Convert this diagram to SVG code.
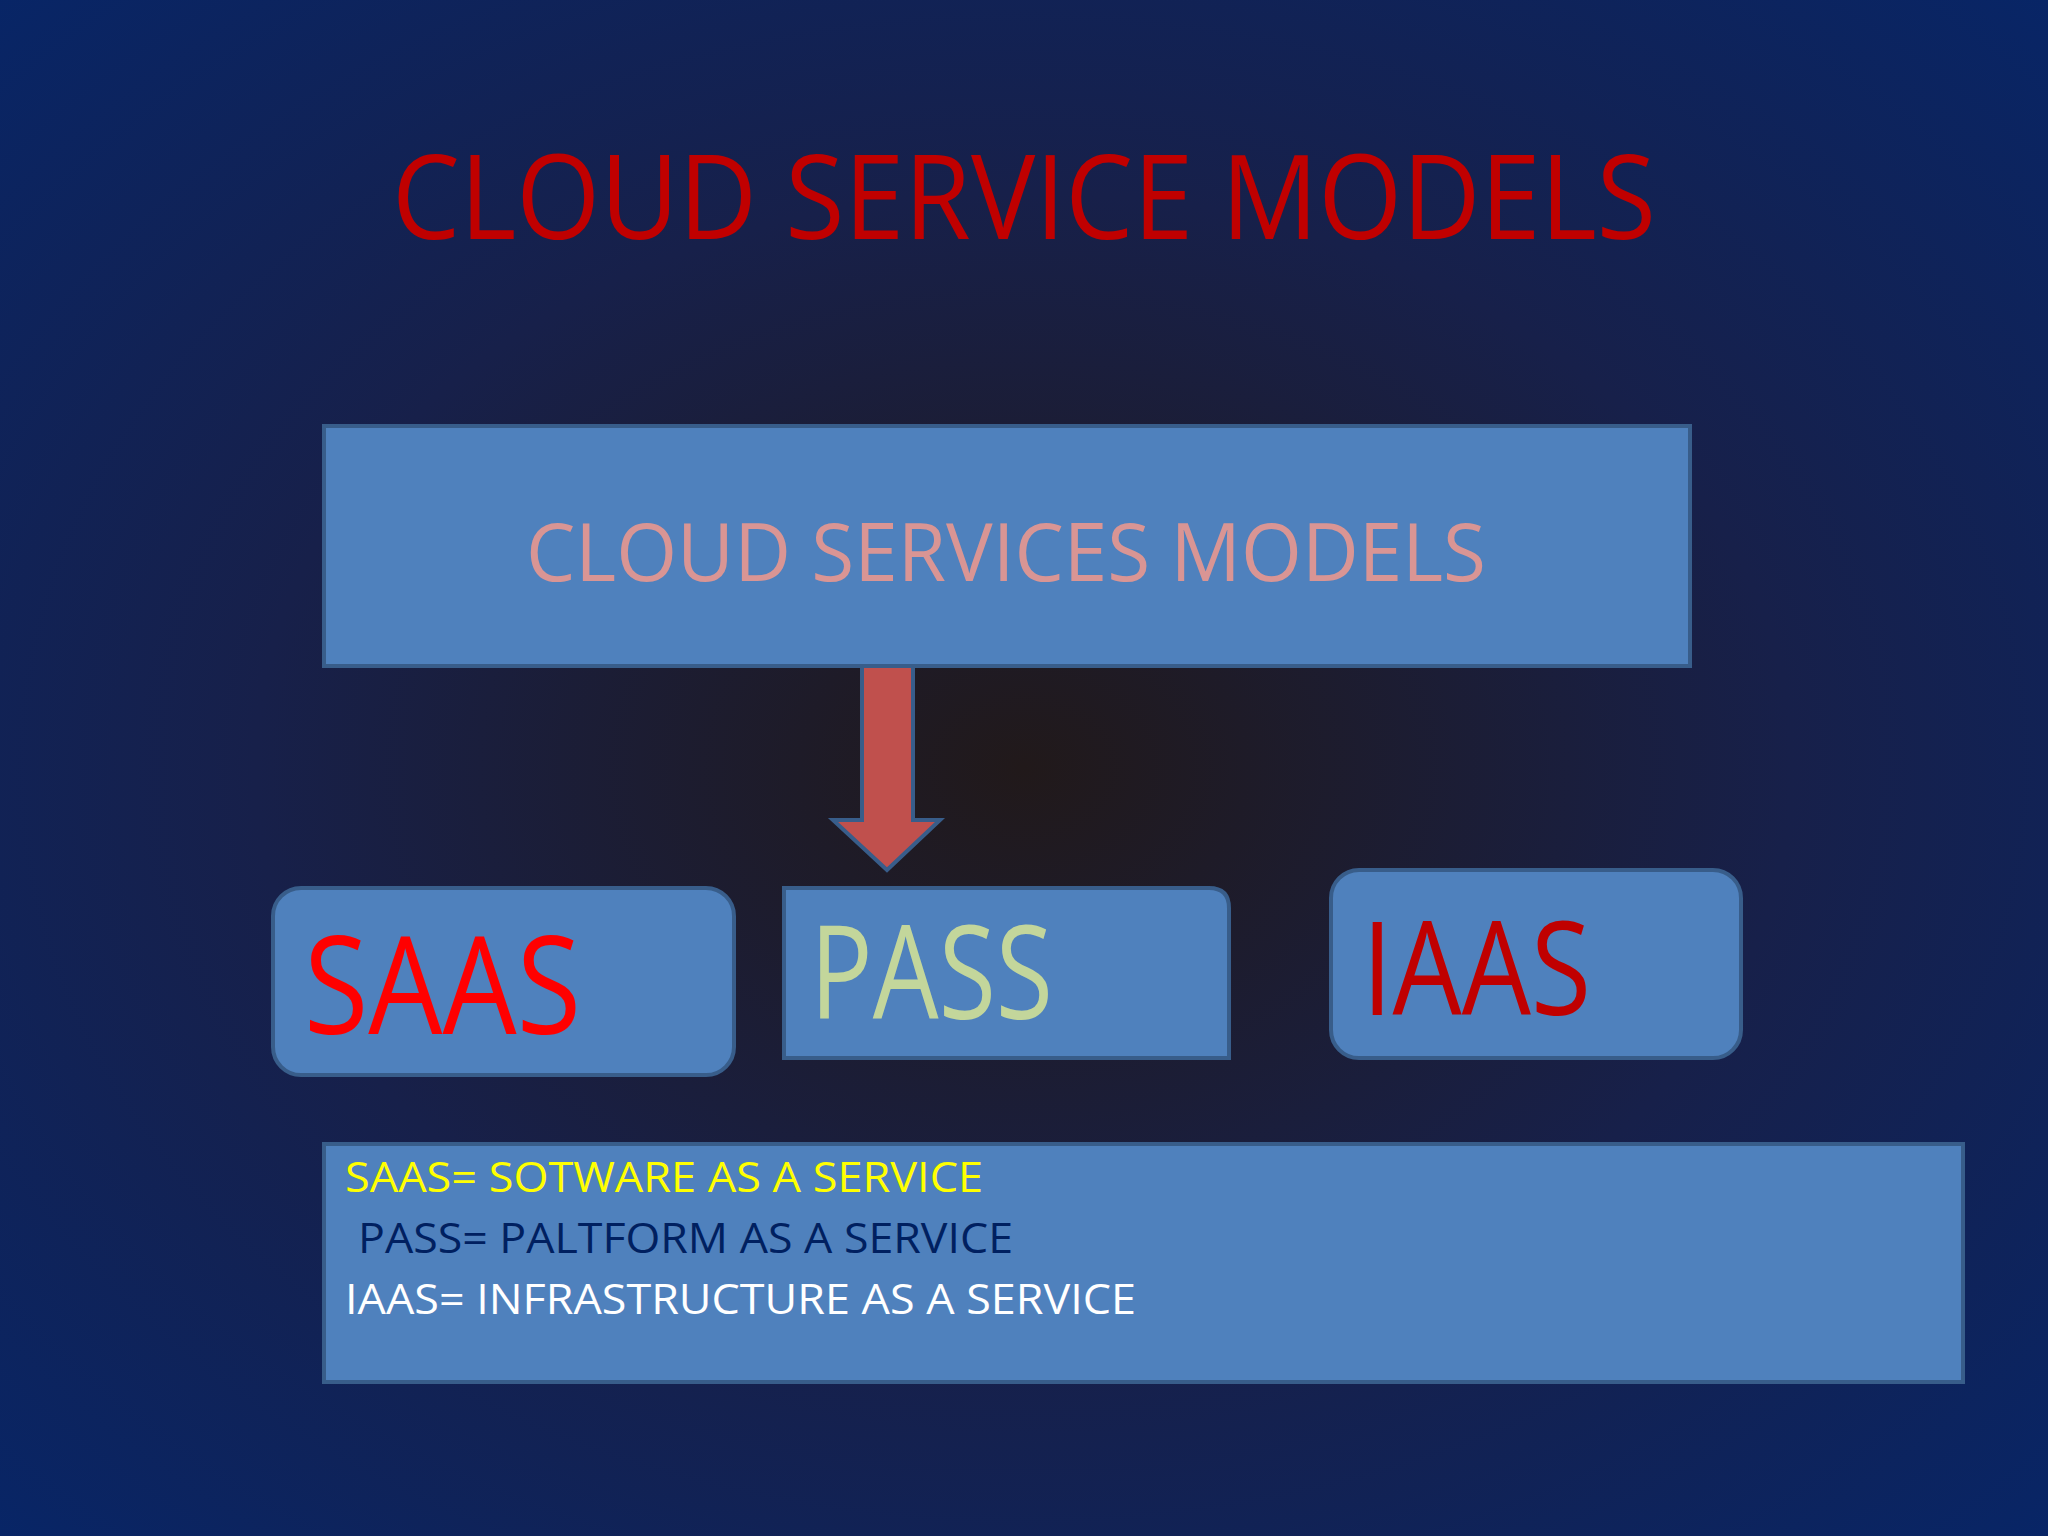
<svg xmlns="http://www.w3.org/2000/svg" width="2048" height="1536" viewBox="0 0 2048 1536">
<defs>
<radialGradient id="bg" cx="50%" cy="50%" r="75%">
<stop offset="0" stop-color="#21191a"/>
<stop offset="0.5" stop-color="#17204a"/>
<stop offset="1" stop-color="#06266a"/>
</radialGradient>
<style>
.box{fill:#4f81bd;stroke:#385d8a;stroke-width:4}
text{font-family:"Open Sans","Liberation Sans",sans-serif}
</style>
</defs>
<rect width="2048" height="1536" fill="url(#bg)"/>
<text x="392" y="239" font-size="118" fill="#c00000" textLength="1264" lengthAdjust="spacingAndGlyphs">CLOUD SERVICE MODELS</text>
<g id="top">
<rect class="box" x="324" y="426" width="1366" height="240"/>
<text x="526" y="581" font-size="80" fill="#d99594" textLength="960" lengthAdjust="spacingAndGlyphs">CLOUD SERVICES MODELS</text>
</g>
<g id="connectors">
<polygon points="862,666 913,666 913,820 940,820 887,870 833,820 862,820" fill="#c0504d" stroke="#385d8a" stroke-width="4"/>
</g>
<g id="saas">
<rect class="box" x="273" y="888" width="461" height="187" rx="28"/>
<text x="304" y="1034" font-size="136" fill="#ff0000" textLength="277" lengthAdjust="spacingAndGlyphs">SAAS</text>
</g>
<g id="pass">
<path class="box" d="M784,888 H1209 Q1229,888 1229,908 V1058 H784 Z"/>
<text x="810" y="1019" font-size="130" fill="#c3d69b" textLength="243" lengthAdjust="spacingAndGlyphs">PASS</text>
</g>
<g id="iaas">
<rect class="box" x="1331" y="870" width="410" height="188" rx="28"/>
<text x="1362" y="1015" font-size="130" fill="#c00000" textLength="229" lengthAdjust="spacingAndGlyphs">IAAS</text>
</g>
<g id="legend">
<rect class="box" x="324" y="1144" width="1639" height="238"/>
<text x="345" y="1192" font-size="42" fill="#ffff00" textLength="638" lengthAdjust="spacingAndGlyphs">SAAS= SOTWARE AS A SERVICE</text>
<text x="358" y="1253" font-size="42" fill="#002060" textLength="655" lengthAdjust="spacingAndGlyphs">PASS= PALTFORM AS A SERVICE</text>
<text x="345" y="1314" font-size="42" fill="#ffffff" textLength="791" lengthAdjust="spacingAndGlyphs">IAAS= INFRASTRUCTURE AS A SERVICE</text>
</g>
</svg>
